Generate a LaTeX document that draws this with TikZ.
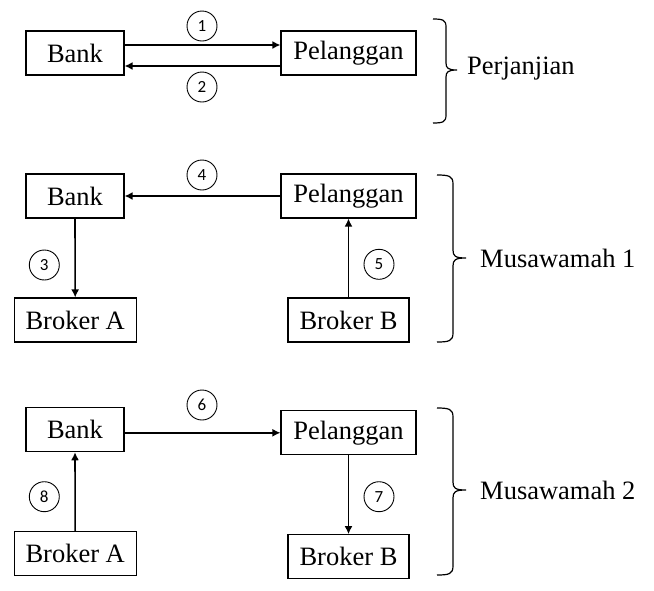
\documentclass[tikz,border=0pt]{standalone}
\usepackage{fontspec}
\setmainfont{Liberation Serif}
\newfontfamily\numfont{Carlito}
\usetikzlibrary{arrows.meta}
\tikzset{
  box/.style={draw, line width=1.1pt, minimum height=44pt, inner sep=0pt,
    font=\fontsize{26.5}{30}\selectfont},
  num/.style={draw, circle, line width=0.9pt, minimum size=30pt, inner sep=0pt,
    font=\numfont\fontsize{17}{20}\selectfont},
  conn/.style={line width=1.6pt, -{Latex[length=8pt,width=8pt]}},
  brc/.style={line width=1.2pt},
  lbl/.style={anchor=west, inner sep=0pt, font=\fontsize{26.5}{30}\selectfont}
}
\begin{document}
\begin{tikzpicture}[x=1pt,y=-1pt]
\useasboundingbox (0,0) rectangle (654,590);
% Section 1
\node[box, minimum width=98pt] (bank1) at (75,53) {Bank};
\node[box, minimum width=135pt] (pel1) at (348.5,53) {Pelanggan};
\draw[conn] ([yshift=8pt]bank1.east) -- ([yshift=8pt]pel1.west);
\draw[conn] ([yshift=-13pt]pel1.west) -- ([yshift=-13pt]bank1.east);
\node[num] (n1) at (202,26) {1};
\node[num] (n2) at (202,87) {2};
\draw[brc] (433,19) .. controls (443,19) and (446,20) .. (446,27) -- (446,63)
  .. controls (446,68) and (448,70) .. (457,70)
  .. controls (448,70) and (446,72) .. (446,77) -- (446,115)
  .. controls (446,122) and (443,123) .. (433,123);
\node[lbl] (t1) at (467,69) {Perjanjian};
% Section 2
\node[box, minimum width=98pt] (bank2) at (75,196) {Bank};
\node[box, minimum width=135pt] (pel2) at (348.5,196) {Pelanggan};
\node[box, minimum width=122pt] (bra2) at (75.2,320) {Broker A};
\node[box, minimum width=121pt] (brb2) at (348.5,320) {Broker B};
\draw[conn] (pel2.west) -- (bank2.east);
\draw[conn] (bank2.south) -- (bra2.north);
\draw[conn] (brb2.north) -- (pel2.south);
\node[num] (n4) at (202,175) {4};
\node[num] (n3) at (44.3,265) {3};
\node[num] (n5) at (379,264.3) {5};
\draw[brc] (437,175) .. controls (449,175) and (453,176) .. (453,184) -- (453,250)
  .. controls (453,256) and (455,258) .. (466,258)
  .. controls (455,258) and (453,260) .. (453,266) -- (453,333)
  .. controls (453,341) and (449,342) .. (437,342);
\node[lbl] (t2) at (480,258) {Musawamah 1};
% Section 3
\node[box, minimum width=98pt] (bank3) at (75,429.7) {Bank};
\node[box, minimum width=135pt] (pel3) at (348.5,432.8) {Pelanggan};
\node[box, minimum width=122pt] (bra3) at (75.2,553.3) {Broker A};
\node[box, minimum width=121pt] (brb3) at (348.5,556.7) {Broker B};
\draw[conn] (bank3.east |- pel3.west) -- (pel3.west);
\draw[conn] (pel3.south) -- (brb3.north);
\draw[conn] (bra3.north) -- (bank3.south);
\node[num] (n6) at (202,405) {6};
\node[num] (n7) at (379,496.7) {7};
\node[num] (n8) at (44.3,496.7) {8};
\draw[brc] (437,408) .. controls (449,408) and (453,409) .. (453,417) -- (453,482)
  .. controls (453,488) and (455,490) .. (466,490)
  .. controls (455,490) and (453,492) .. (453,498) -- (453,566)
  .. controls (453,574) and (449,575) .. (437,575);
\node[lbl] (t3) at (480,490) {Musawamah 2};
\end{tikzpicture}
\end{document}
